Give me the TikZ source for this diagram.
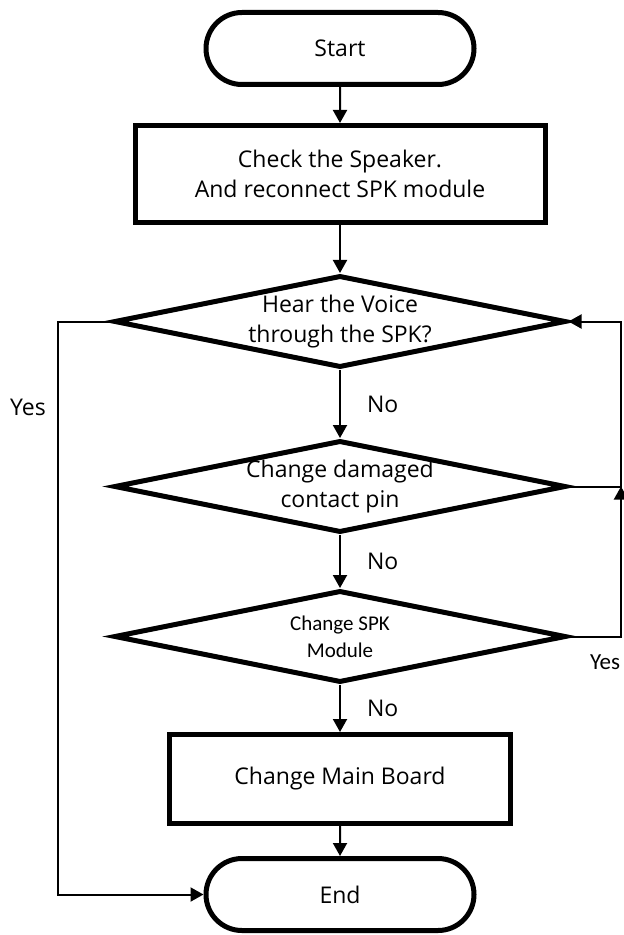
\documentclass[tikz,border=0pt]{standalone}
\usepackage{fontspec}
\setmainfont{Open Sans}
\newfontfamily\calibrifont{Carlito}
\usetikzlibrary{calc}
\usetikzlibrary{shapes}
\usetikzlibrary{arrows.meta}

\begin{document}
\begin{tikzpicture}[x=0.5pt,y=-0.5pt,font=\fontsize{11.5}{15}\selectfont]
    \tikzstyle{term}=[shape=rounded rectangle,draw,line width=2.5pt,minimum width=134pt,minimum height=36pt,inner sep=0pt]
    \tikzstyle{box}=[shape=rectangle,draw,line width=2.5pt,align=center,inner sep=0pt]
    \tikzstyle{dec}=[shape=diamond,draw,line width=2.5pt,aspect=4.9,minimum width=226pt,minimum height=46pt,inner sep=0pt,align=center]
    \tikzstyle{arr}=[-{Triangle[length=6.5pt,width=7pt]},line width=1pt]
    \tikzstyle{lbl}=[inner sep=0pt]

    \useasboundingbox (0,0) rectangle (623,935);

    % start
    \coordinate (start_c) at (340,48.5);
    \node[term] (start) at (start_c) {Start};

    % check the speaker
    \coordinate (check_c) at ($(start_c) + (0,125.5)$);
    \node[box,minimum width=205pt,minimum height=48.5pt] (check) at (check_c) {Check the Speaker.\\And reconnect SPK module};

    \draw[arr] (start) -- (check);

    % first question
    \coordinate (hear_c) at ($(check_c) + (0,147.5)$);
    \node[dec] (hear) at (hear_c) {Hear the Voice\\through the SPK?};

    \draw[arr] (check) -- (hear);

    % contact pin
    \coordinate (pin_c) at ($(hear_c) + (0,165)$);
    \node[dec] (pin) at (pin_c) {Change damaged\\contact pin};

    \draw[arr] (hear) -- (pin) node[lbl,midway,right=13pt] {No};

    % spk module
    \coordinate (spk_c) at ($(pin_c) + (0,150)$);
    \node[dec,font=\calibrifont\fontsize{10.5}{13.5}\selectfont] (spk) at (spk_c) {Change SPK\\Module};

    \draw[arr] (pin) -- (spk) node[lbl,midway,right=13pt] {No};

    % main board
    \coordinate (board_c) at ($(spk_c) + (0,142.5)$);
    \node[box,minimum width=170.5pt,minimum height=44.5pt] (board) at (board_c) {Change Main Board};

    \draw[arr] (spk) -- (board) node[lbl,midway,right=13pt] {No};

    % end
    \coordinate (stop_c) at ($(board_c) + (0,115.5)$);
    \node[term] (stop) at (stop_c) {End};

    \draw[arr] (board) -- (stop);

    % yes branch on the left
    \coordinate (loop_l) at ($(hear_c) - (282,0)$);
    \draw[arr] (hear.west) -- (hear.west -| loop_l) |- (stop.west);
    \node[lbl] (yes_l) at (28,407) {Yes};

    % loops back on the right
    \coordinate (loop_r) at ($(hear_c) + (281,0)$);
    \draw[arr] (pin.east) -- (pin.east -| loop_r) |- (hear.east);
    \draw[arr] (spk.east) -- (spk.east -| loop_r) -- (pin.east -| loop_r);
    \node[lbl,font=\calibrifont\fontsize{11.5}{13}\selectfont] (yes_r) at (605,662) {Yes};

\end{tikzpicture}
\end{document}
